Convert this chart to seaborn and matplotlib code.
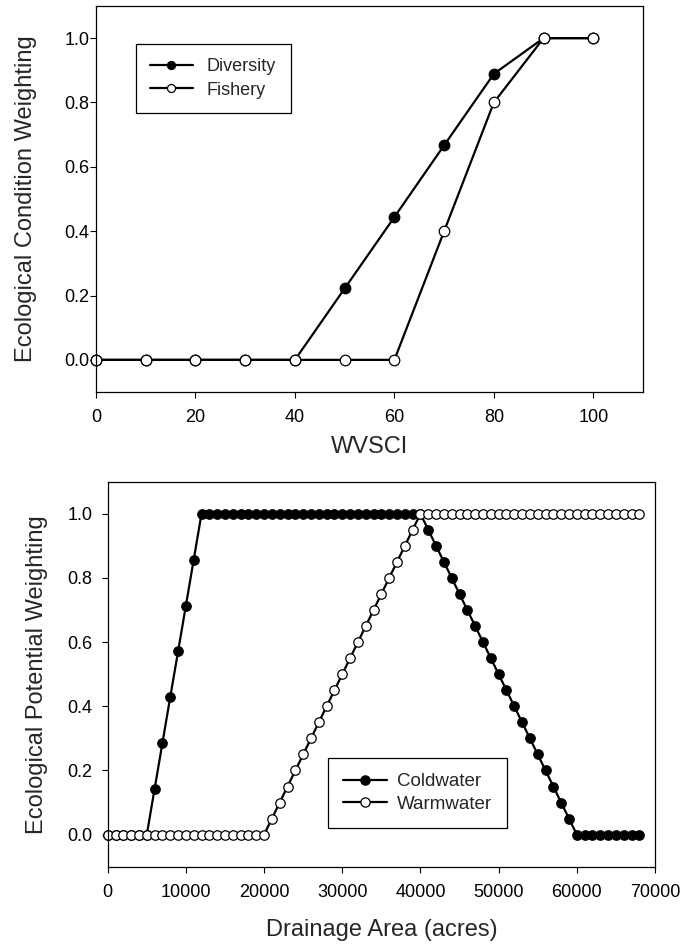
"""Ecological condition / potential weighting curves"""
import matplotlib
matplotlib.use('Agg')
import matplotlib.pyplot as plt
import seaborn as sns
import pandas as pd

sns.set_style('ticks')
plt.rcParams['font.family'] = ['Liberation Sans', 'DejaVu Sans']

# 上图：WVSCI
wvsci = [0, 10, 20, 30, 40, 50, 60, 70, 80, 90, 100]
diversity = [0.0, 0.0, 0.0, 0.0, 0.0, 0.222, 0.444, 0.667, 0.889, 1.0, 1.0]
fishery = [0.0, 0.0, 0.0, 0.0, 0.0, 0.0, 0.0, 0.4, 0.8, 1.0, 1.0]

# 下图：流域面积
drainage = [0, 1000, 2000, 3000, 4000, 5000, 6000, 7000, 8000, 9000,
            10000, 11000, 12000, 13000, 14000, 15000, 16000, 17000, 18000, 19000,
            20000, 21000, 22000, 23000, 24000, 25000, 26000, 27000, 28000, 29000,
            30000, 31000, 32000, 33000, 34000, 35000, 36000, 37000, 38000, 39000,
            40000, 41000, 42000, 43000, 44000, 45000, 46000, 47000, 48000, 49000,
            50000, 51000, 52000, 53000, 54000, 55000, 56000, 57000, 58000, 59000,
            60000, 61000, 62000, 63000, 64000, 65000, 66000, 67000, 68000]
coldwater = [0.0, 0.0, 0.0, 0.0, 0.0, 0.0, 0.143, 0.286, 0.429, 0.571,
             0.714, 0.857, 1.0, 1.0, 1.0, 1.0, 1.0, 1.0, 1.0, 1.0,
             1.0, 1.0, 1.0, 1.0, 1.0, 1.0, 1.0, 1.0, 1.0, 1.0,
             1.0, 1.0, 1.0, 1.0, 1.0, 1.0, 1.0, 1.0, 1.0, 1.0,
             1.0, 0.95, 0.9, 0.85, 0.8, 0.75, 0.7, 0.65, 0.6, 0.55,
             0.5, 0.45, 0.4, 0.35, 0.3, 0.25, 0.2, 0.15, 0.1, 0.05,
             0.0, 0.0, 0.0, 0.0, 0.0, 0.0, 0.0, 0.0, 0.0]
warmwater = [0.0, 0.0, 0.0, 0.0, 0.0, 0.0, 0.0, 0.0, 0.0, 0.0,
             0.0, 0.0, 0.0, 0.0, 0.0, 0.0, 0.0, 0.0, 0.0, 0.0,
             0.0, 0.05, 0.1, 0.15, 0.2, 0.25, 0.3, 0.35, 0.4, 0.45,
             0.5, 0.55, 0.6, 0.65, 0.7, 0.75, 0.8, 0.85, 0.9, 0.95,
             1.0, 1.0, 1.0, 1.0, 1.0, 1.0, 1.0, 1.0, 1.0, 1.0,
             1.0, 1.0, 1.0, 1.0, 1.0, 1.0, 1.0, 1.0, 1.0, 1.0,
             1.0, 1.0, 1.0, 1.0, 1.0, 1.0, 1.0, 1.0, 1.0]

df_top = pd.DataFrame({'WVSCI': wvsci, 'Diversity': diversity, 'Fishery': fishery})
df_bot = pd.DataFrame({'Drainage': drainage, 'Coldwater': coldwater, 'Warmwater': warmwater})


def draw(ax, df, x, col, face, ms):
    sns.lineplot(data=df, x=x, y=col, ax=ax, color='black', lw=1.6,
                 marker='o', markersize=ms, markerfacecolor=face,
                 markeredgecolor='black', markeredgewidth=0.9,
                 label=col, clip_on=False, estimator=None, sort=False)


def style_axes(ax, ypad):
    for s in ax.spines.values():
        s.set_visible(True)
        s.set_linewidth(0.9)
        s.set_color('black')
    ax.set_ylim(-0.1, 1.1)
    ax.set_yticks([0.0, 0.2, 0.4, 0.6, 0.8, 1.0])
    ax.set_yticklabels(['0.0', '0.2', '0.4', '0.6', '0.8', '1.0'])
    ax.tick_params(axis='both', direction='out', length=4.1, width=0.8,
                   labelsize=13, colors='black')
    ax.tick_params(axis='y', pad=ypad)
    ax.tick_params(axis='x', pad=8)


fig = plt.figure(figsize=(6.83, 9.49), dpi=100)

# ---- 上图 ----
ax1 = fig.add_axes([0.1406, 0.5869, 0.8009, 0.4068])
draw(ax1, df_top, 'WVSCI', 'Diversity', 'black', 7.6)
draw(ax1, df_top, 'WVSCI', 'Fishery', 'white', 7.6)
ax1.set_xlim(0, 110)
ax1.set_xticks([0, 20, 40, 60, 80, 100])
style_axes(ax1, 0.5)
ax1.set_xlabel('WVSCI', fontsize=17)
ax1.set_ylabel('Ecological Condition Weighting', fontsize=17)
ax1.xaxis.set_label_coords(0.5, -0.1425)
ax1.xaxis.label.set_va('center')
ax1.yaxis.set_label_coords(-0.128, 0.5)
ax1.yaxis.label.set_va('center')
leg1 = ax1.legend(loc='upper left', bbox_to_anchor=(0.0731, 0.9016), borderaxespad=0,
                  fontsize=13, handlelength=2.33, handletextpad=0.8, borderpad=0.8,
                  labelspacing=0.35, markerscale=0.76, fancybox=False,
                  framealpha=1, edgecolor='black')
leg1.get_frame().set_linewidth(0.9)

# ---- 下图 ----
ax2 = fig.add_axes([0.1577, 0.0867, 0.8013, 0.4057])
draw(ax2, df_bot, 'Drainage', 'Coldwater', 'black', 6.8)
draw(ax2, df_bot, 'Drainage', 'Warmwater', 'white', 6.8)
ax2.set_xlim(0, 70000)
ax2.set_xticks([0, 10000, 20000, 30000, 40000, 50000, 60000, 70000])
ax2.set_xticklabels(['0', '10000', '20000', '30000', '40000', '50000', '60000', '70000'])
style_axes(ax2, 7)
ax2.set_xlabel('Drainage Area (acres)', fontsize=17)
ax2.set_ylabel('Ecological Potential Weighting', fontsize=17)
ax2.xaxis.set_label_coords(0.5, -0.165)
ax2.xaxis.label.set_va('center')
ax2.yaxis.set_label_coords(-0.129, 0.5)
ax2.yaxis.label.set_va('center')
leg2 = ax2.legend(loc='upper left', bbox_to_anchor=(0.4025, 0.2823), borderaxespad=0,
                  fontsize=13.5, handlelength=2.35, handletextpad=0.55, borderpad=0.8,
                  labelspacing=0.3, markerscale=0.98, fancybox=False,
                  framealpha=1, edgecolor='black')
leg2.get_frame().set_linewidth(0.9)

fig.savefig('out.png', dpi=100)
